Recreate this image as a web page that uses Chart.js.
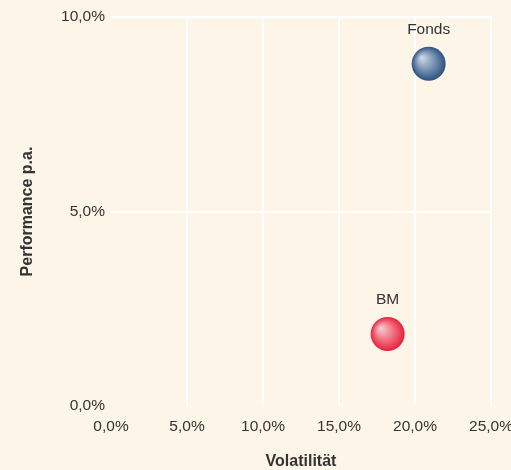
<!DOCTYPE html>
<html>
<head>
<meta charset="utf-8">
<script src="https://cdn.jsdelivr.net/npm/chart.js@4"></script>
<style>
    html, body { margin: 0; padding: 0; background: #fdf5e7; }
    #wrap { width: 511px; height: 470px; }
</style>
</head>
<body>
<div id="wrap"><canvas id="chart" width="511" height="470"></canvas></div>
<script>
const names = ["Fonds", "BM"];
const volatility = [20.9, 18.2];
const performance = [8.8, 1.85];
const xTicks = [0, 5, 10, 15, 20, 25];
const yTicks = [0, 5, 10];

const edgeColors = ["#2c5282", "#e8203c"];
const lightColors = ["#c9d6e4", "#f9c6cd"];

const fmt = v => v.toFixed(1).replace(".", ",") + "%";

// radial gradient with the highlight up-left of the centre
function ball(i) {
    return (ctx) => {
        const chart = ctx.chart;
        if (!chart.chartArea) return edgeColors[i];
        const x = chart.scales.x.getPixelForValue(volatility[i]);
        const y = chart.scales.y.getPixelForValue(performance[i]);
        const g = chart.ctx.createRadialGradient(x - 7, y - 6, 1, x, y, 17);
        g.addColorStop(0, lightColors[i]);
        g.addColorStop(1, edgeColors[i]);
        return g;
    };
}

const labelPlugin = {
    id: "pointLabels",
    afterDatasetsDraw(chart) {
        const c = chart.ctx;
        c.save();
        c.font = "15.5px 'Liberation Sans', Arial, sans-serif";
        c.fillStyle = "#333";
        c.textAlign = "center";
        c.textBaseline = "middle";
        chart.data.datasets.forEach((ds, i) => {
            const el = chart.getDatasetMeta(i).data[0];
            c.fillText(ds.label, el.x, el.y - 34);
        });
        c.restore();
    }
};

const tickFont = { family: "'Liberation Sans', Arial, sans-serif", size: 15.5 };
const titleFont = { family: "'Liberation Sans', Arial, sans-serif", size: 16, weight: "bold" };
const gridColor = (ctx) => ctx.tick && ctx.tick.value === 0 ? "rgba(0,0,0,0)" : "#ffffff";

new Chart(document.getElementById("chart"), {
    type: "bubble",
    data: {
        datasets: names.map((name, i) => ({
            label: name,
            data: [{ x: volatility[i], y: performance[i] }],
            radius: 17,
            hoverRadius: 0,
            borderWidth: 0,
            backgroundColor: ball(i)
        }))
    },
    options: {
        responsive: false,
        animation: false,
        layout: { padding: { top: 12, right: 20, left: 0, bottom: 0 } },
        plugins: { legend: { display: false }, tooltip: { enabled: false } },
        scales: {
            x: {
                type: "linear",
                min: 0,
                max: 25,
                afterFit: s => { s.height = 64; s.paddingLeft = 0; s.paddingRight = 0; },
                afterBuildTicks: s => { s.ticks = xTicks.map(v => ({ value: v })); },
                ticks: { callback: fmt, color: "#333", font: tickFont, padding: 11, maxRotation: 0 },
                grid: { color: gridColor, lineWidth: 2, drawTicks: false },
                border: { display: false },
                title: { display: true, text: "Volatilität", color: "#333", font: titleFont, padding: { top: 4, bottom: -1 } }
            },
            y: {
                type: "linear",
                min: 0,
                max: 10,
                afterFit: s => { s.width = 111; s.paddingTop = 0; s.paddingBottom = 0; },
                afterBuildTicks: s => { s.ticks = yTicks.map(v => ({ value: v })); },
                ticks: { callback: fmt, color: "#333", font: tickFont, padding: 6 },
                grid: { color: gridColor, lineWidth: 2, drawTicks: false },
                border: { display: false },
                title: { display: true, text: "Performance p.a.", color: "#333", font: titleFont, padding: { top: 18, bottom: 4 } }
            }
        }
    },
    plugins: [labelPlugin]
});
</script>
</body>
</html>
